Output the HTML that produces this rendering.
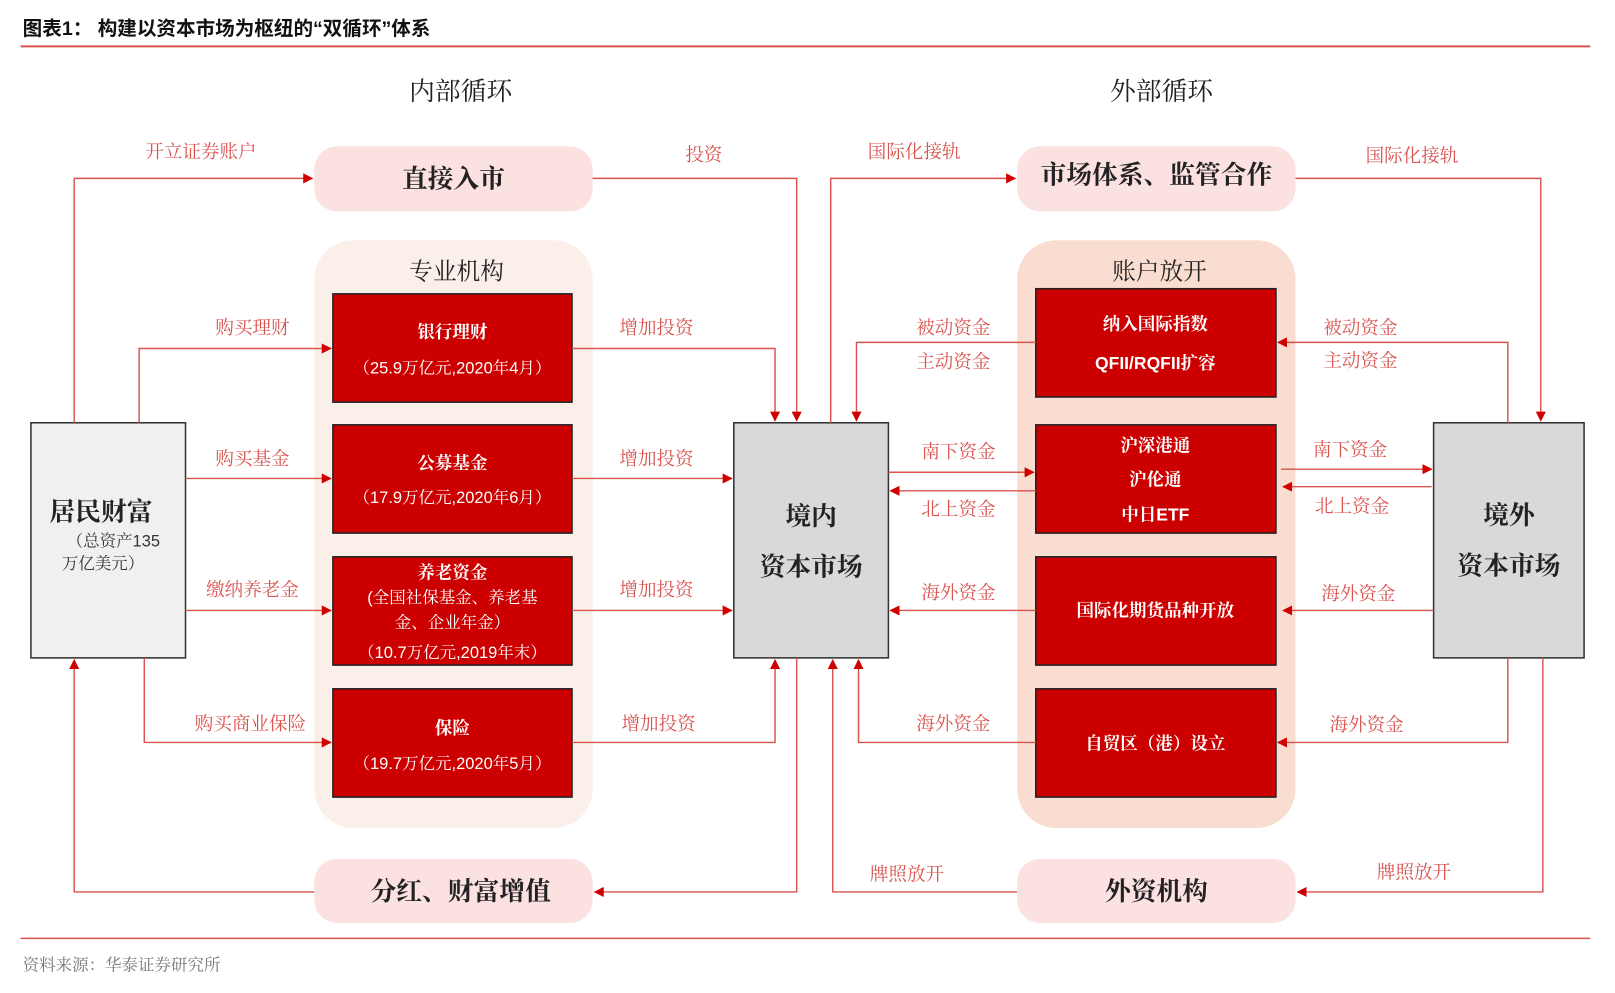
<!DOCTYPE html>
<html><head><meta charset="utf-8"><style>
html,body{margin:0;padding:0;background:#fff;}
svg{display:block;}
text{font-family:"Liberation Sans","Noto Serif CJK SC","Noto Sans CJK SC",serif;}
.lb{fill:#d9534f;font-size:18px;text-anchor:middle;}
.ti{fill:#222;font-size:25px;text-anchor:middle;font-weight:bold;}
.bx{fill:#fff;font-size:17px;text-anchor:middle;font-weight:bold;}
.bs{fill:#fff;font-size:16px;text-anchor:middle;}
.ln{stroke:#d9534f;stroke-width:1.4;fill:none;marker-end:url(#a);}
</style></head><body>
<svg width="1615" height="993" viewBox="0 0 1567 963" preserveAspectRatio="none" xmlns="http://www.w3.org/2000/svg">
<defs><marker id="a" viewBox="0 0 10 10" refX="9" refY="5" markerWidth="7" markerHeight="7" orient="auto"><path d="M0,0 L10,5 L0,10 z" fill="#d00000"/></marker></defs>
<text x="22" y="34" style="font-size:19px;font-weight:bold;fill:#111;font-family:'Liberation Sans','Noto Sans CJK SC',sans-serif;">图表1：  构建以资本市场为枢纽的“双循环”体系</text>
<line x1="20" y1="45" x2="1543" y2="45" stroke="#d9534f" stroke-width="2"/>
<text x="447" y="97" class="ti" style="font-weight:normal">内部循环</text>
<text x="1127" y="97" class="ti" style="font-weight:normal">外部循环</text>
<rect x="305" y="233" width="270" height="570" rx="38" fill="#fbefe9"/>
<rect x="987" y="233" width="270" height="570" rx="38" fill="#f8ddd0"/>
<text x="443" y="271" class="ti" style="font-size:23px;font-weight:normal">专业机构</text>
<text x="1125" y="271" class="ti" style="font-size:23px;font-weight:normal">账户放开</text>
<rect x="305" y="142" width="270" height="63" rx="22" fill="#fce1e1"/>
<rect x="987" y="142" width="270" height="63" rx="22" fill="#fce1e1"/>
<rect x="305" y="833" width="270" height="62" rx="22" fill="#fce1e1"/>
<rect x="987" y="833" width="270" height="62" rx="22" fill="#fce1e1"/>
<text x="440" y="182" class="ti">直接入市</text>
<text x="1122" y="178" class="ti">市场体系、监管合作</text>
<text x="447" y="873" class="ti">分红、财富增值</text>
<text x="1122" y="873" class="ti">外资机构</text>
<rect x="30" y="410" width="150" height="228" fill="#f0f0f0" stroke="#333" stroke-width="1.5"/>
<rect x="712" y="410" width="150" height="228" fill="#d9d9d9" stroke="#333" stroke-width="1.5"/>
<rect x="1391" y="410" width="146" height="228" fill="#d9d9d9" stroke="#333" stroke-width="1.5"/>
<text x="98" y="505" class="ti">居民财富</text>
<text x="110" y="530" style="font-size:16px;fill:#333;text-anchor:middle">（总资产135</text>
<text x="100" y="552" style="font-size:16px;fill:#333;text-anchor:middle">万亿美元）</text>
<text x="787" y="509" class="ti">境内</text>
<text x="787" y="558" class="ti">资本市场</text>
<text x="1464" y="508" class="ti">境外</text>
<text x="1464" y="557" class="ti">资本市场</text>
<g fill="#cc0000" stroke="#222" stroke-width="1.5">
<rect x="323" y="285" width="232" height="105"/><rect x="323" y="412" width="232" height="105"/>
<rect x="323" y="540" width="232" height="105"/><rect x="323" y="668" width="232" height="105"/>
<rect x="1005" y="280" width="233" height="105"/><rect x="1005" y="412" width="233" height="105"/>
<rect x="1005" y="540" width="233" height="105"/><rect x="1005" y="668" width="233" height="105"/>
</g>
<text x="439" y="328" class="bx">银行理财</text><text x="439" y="362" class="bs">（25.9万亿元,2020年4月）</text>
<text x="439" y="455" class="bx">公募基金</text><text x="439" y="488" class="bs">（17.9万亿元,2020年6月）</text>
<text x="439" y="561" class="bx">养老资金</text><text x="439" y="585" class="bs">(全国社保基金、养老基</text><text x="439" y="609" class="bs">金、企业年金）</text><text x="439" y="638" class="bs">（10.7万亿元,2019年末）</text>
<text x="439" y="712" class="bx">保险</text><text x="439" y="746" class="bs">（19.7万亿元,2020年5月）</text>
<text x="1121" y="320" class="bx">纳入国际指数</text><text x="1121" y="358" class="bx">QFII/RQFII扩容</text>
<text x="1121" y="438" class="bx">沪深港通</text><text x="1121" y="471" class="bx">沪伦通</text><text x="1121" y="505" class="bx">中日ETF</text>
<text x="1121" y="598" class="bx">国际化期货品种开放</text>
<text x="1121" y="727" class="bx">自贸区（港）设立</text>
<path class="ln" d="M72,410 V173 H303"/>
<path class="ln" d="M135,410 V338 H321"/>
<path class="ln" d="M180,464 H321"/>
<path class="ln" d="M180,592 H321"/>
<path class="ln" d="M140,638 V720 H321"/>
<path class="ln" d="M305,865 H72 V640"/>
<path class="ln" d="M575,173 H773 V408"/>
<path class="ln" d="M555,338 H752 V408"/>
<path class="ln" d="M555,464 H710"/>
<path class="ln" d="M555,592 H710"/>
<path class="ln" d="M555,720 H752 V640"/>
<path class="ln" d="M773,638 V865 H577"/>
<path class="ln" d="M806,410 V173 H985"/>
<path class="ln" d="M1257,173 H1495 V408"/>
<path class="ln" d="M1005,332 H831 V408"/>
<path class="ln" d="M1463,410 V332 H1240"/>
<path class="ln" d="M862,458 H1003"/>
<path class="ln" d="M1005,476 H864"/>
<path class="ln" d="M1243,455 H1389"/>
<path class="ln" d="M1389,472 H1245"/>
<path class="ln" d="M1005,592 H864"/>
<path class="ln" d="M1391,592 H1245"/>
<path class="ln" d="M1005,720 H833 V640"/>
<path class="ln" d="M1463,638 V720 H1240"/>
<path class="ln" d="M987,865 H808 V640"/>
<path class="ln" d="M1497,638 V865 H1259"/>
<text x="195" y="153" class="lb">开立证券账户</text>
<text x="683" y="156" class="lb">投资</text>
<text x="245" y="324" class="lb">购买理财</text>
<text x="245" y="451" class="lb">购买基金</text>
<text x="245" y="578" class="lb">缴纳养老金</text>
<text x="243" y="708" class="lb">购买商业保险</text>
<text x="637" y="324" class="lb">增加投资</text>
<text x="637" y="451" class="lb">增加投资</text>
<text x="637" y="578" class="lb">增加投资</text>
<text x="639" y="708" class="lb">增加投资</text>
<text x="887" y="153" class="lb">国际化接轨</text>
<text x="1370" y="157" class="lb">国际化接轨</text>
<text x="925" y="324" class="lb">被动资金</text>
<text x="925" y="357" class="lb">主动资金</text>
<text x="1320" y="324" class="lb">被动资金</text>
<text x="1320" y="356" class="lb">主动资金</text>
<text x="930" y="444" class="lb">南下资金</text>
<text x="930" y="500" class="lb">北上资金</text>
<text x="1310" y="442" class="lb">南下资金</text>
<text x="1312" y="497" class="lb">北上资金</text>
<text x="930" y="581" class="lb">海外资金</text>
<text x="1318" y="582" class="lb">海外资金</text>
<text x="925" y="708" class="lb">海外资金</text>
<text x="1326" y="709" class="lb">海外资金</text>
<text x="880" y="854" class="lb">牌照放开</text>
<text x="1372" y="852" class="lb">牌照放开</text>
<line x1="20" y1="910" x2="1543" y2="910" stroke="#d9534f" stroke-width="1.5"/>
<text x="22" y="941" style="font-size:16px;fill:#777;">资料来源：华泰证券研究所</text>
</svg>
</body></html>
